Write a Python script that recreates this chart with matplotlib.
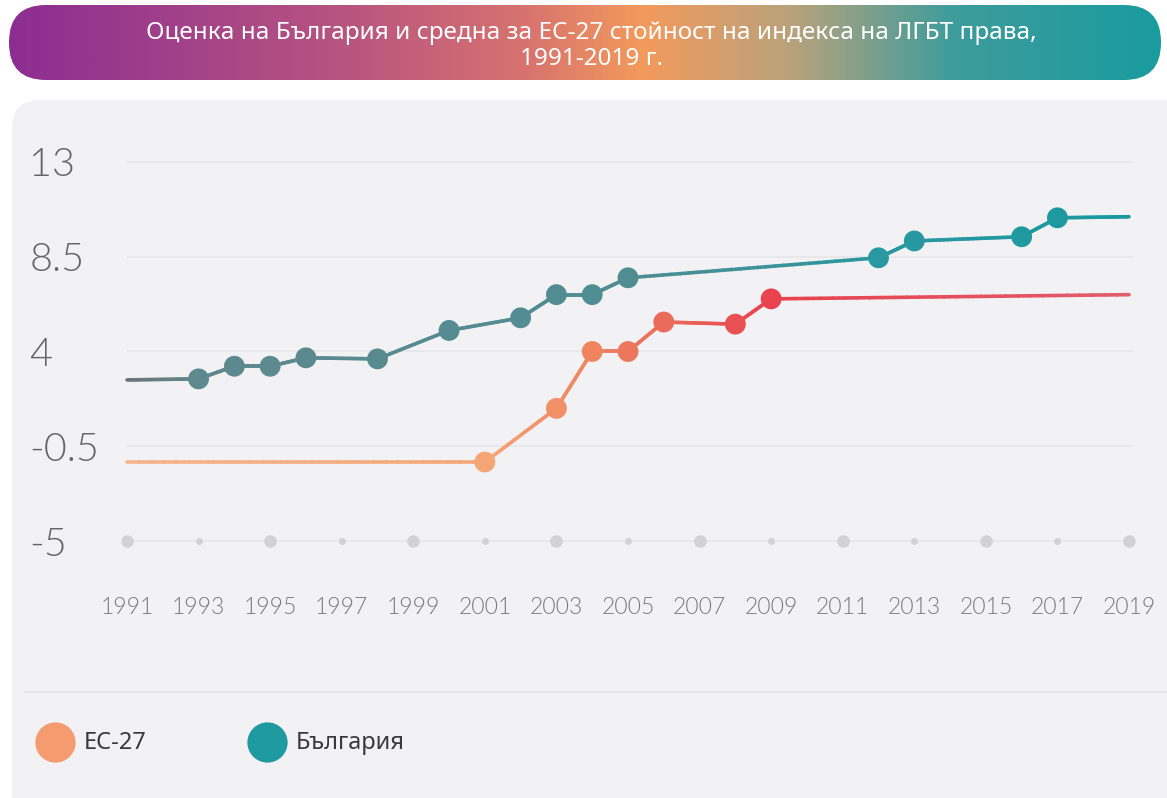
import numpy as np
import matplotlib.pyplot as plt
from matplotlib.collections import LineCollection
from matplotlib.colors import LinearSegmentedColormap, Normalize
from matplotlib.patches import FancyBboxPatch

plt.rcParams['font.family'] = ['Lato', 'DejaVu Sans']

# ## DATA

years_eu = [1991, 2001, 2003, 2004, 2005, 2006, 2008, 2009, 2019]
eu27 = [-1.25, -1.25, 1.3, 4.0, 4.0, 5.4, 5.3, 6.5, 6.7]
eu_marker = [False, True, True, True, True, True, True, True, False]

years_bg = [1991, 1993, 1994, 1995, 1996, 1998, 2000, 2002, 2003, 2004, 2005,
            2012, 2013, 2016, 2017, 2019]
bulgaria = [2.65, 2.7, 3.3, 3.3, 3.7, 3.65, 5.0, 5.6, 6.7, 6.7, 7.5,
            8.45, 9.25, 9.45, 10.35, 10.4]
bg_marker = [False, True, True, True, True, True, True, True, True, True, True,
             True, True, True, True, False]

xticks = list(range(1991, 2020, 2))
yticks = [-5, -0.5, 4, 8.5, 13]
ytick_labels = ['-5', '-0.5', '4', '8.5', '13']

title = ('Оценка на България и средна за ЕС-27 стойност на индекса на ЛГБТ права,\n'
         '1991-2019 г.')
legend_labels = ['ЕС-27', 'България']

# colour ramps along the x axis
norm = Normalize(1991, 2019)
cmap_eu = LinearSegmentedColormap.from_list('eu', [
    (0.0, '#f5b48c'), (10 / 28, '#f5a677'), (13 / 28, '#ef835f'),
    (15 / 28, '#eb6c5a'), (18 / 28, '#e8424f'), (1.0, '#e35c6b')])
cmap_bg = LinearSegmentedColormap.from_list('bg', [
    (0.0, '#6d7478'), (2 / 28, '#5e898e'), (14 / 28, '#4f8d93'),
    (21 / 28, '#2a98a0'), (1.0, '#18999f')])

W, H = 1167, 798
fig = plt.figure(figsize=(W / 100, H / 100), dpi=100)
fig.patch.set_facecolor('white')

# background panel and header banner
bg = fig.add_axes([0, 0, 1, 1])
bg.set_xlim(0, W)
bg.set_ylim(H, 0)
bg.axis('off')
panel = FancyBboxPatch((12, 100), W + 40, H, boxstyle='round,pad=0,rounding_size=28',
                       fc='#f2f2f5', ec='none')
bg.add_patch(panel)
bg.plot([25, W], [692, 692], color='#e4e4e8', lw=1.2)

banner = FancyBboxPatch((9, 5), 1152, 75, boxstyle='round,pad=0,rounding_size=37',
                        fc='none', ec='none')
bg.add_patch(banner)
cmap_title = LinearSegmentedColormap.from_list('title', [
    (0.0, '#8c2d92'), (0.3, '#b9567f'), (0.45, '#d8736f'), (0.55, '#f39a5c'),
    (0.68, '#b9a27c'), (0.82, '#3e9c9c'), (1.0, '#1a9b9f')])
grad = np.linspace(0, 1, 512).reshape(1, -1)
im = bg.imshow(grad, cmap=cmap_title, aspect='auto', extent=(9, 1161, 80, 5))
im.set_clip_path(banner)
bg.text(591, 46, title, color='white', fontsize=17.5, ha='center', va='center',
        family=['Noto Sans', 'DejaVu Sans'], linespacing=1.08)

# legend
lx = [55, 267]
lcol = ['#f59b70', '#1e9aa0']
for x, c, lab in zip(lx, lcol, legend_labels):
    bg.plot(x, 742, 'o', ms=29, color=c, mec='none')
    bg.text(x + 29, 743, lab, color='#3a3a3a', fontsize=17, va='center',
            family=['Noto Sans', 'DejaVu Sans'])

# ## PLOT

ax = fig.add_axes([100 / W, 1 - 580 / H, 1060 / W, 450 / H])
ax.patch.set_alpha(0)
for s in ax.spines.values():
    s.set_visible(False)
px_year = (1129 - 127) / 28
px_unit = (541 - 162) / 18
ax.set_xlim(1991 - 27 / px_year, 2019 + 31 / px_year)
ax.set_ylim(-5 - 39 / px_unit, 13 + 32 / px_unit)

ax.hlines(yticks, 1991, 2019.1, color='#e6e6ea', lw=1.2, zorder=0)
ax.plot(xticks[::2], [-5] * len(xticks[::2]), 'o', ms=9, color='#d2d2d6', mec='none')
ax.plot(xticks[1::2], [-5] * len(xticks[1::2]), 'o', ms=5, color='#d2d2d6', mec='none')


def gradient_line(years, values, mask, cmap):
    segs, cols = [], []
    for i in range(len(years) - 1):
        xs = np.linspace(years[i], years[i + 1], 30)
        ys = np.linspace(values[i], values[i + 1], 30)
        for j in range(29):
            segs.append([(xs[j], ys[j]), (xs[j + 1], ys[j + 1])])
            cols.append(cmap(norm((xs[j] + xs[j + 1]) / 2)))
    lc = LineCollection(segs, colors=cols, linewidths=2.6, capstyle='round', zorder=2)
    ax.add_collection(lc)
    mx = [x for x, m in zip(years, mask) if m]
    my = [y for y, m in zip(values, mask) if m]
    ax.scatter(mx, my, s=15 ** 2, c=[cmap(norm(x)) for x in mx], edgecolors='none',
               zorder=3, clip_on=False)


gradient_line(years_bg, bulgaria, bg_marker, cmap_bg)
gradient_line(years_eu, eu27, eu_marker, cmap_eu)

ax.set_xticks(xticks)
ax.set_xticklabels([str(x) for x in xticks], fontsize=16.5, color='#7a7a7a',
                   fontweight=300)
ax.set_yticks(yticks)
ax.set_yticklabels(ytick_labels, fontsize=28.5, color='#666666', ha='left',
                   fontweight=300)
ax.tick_params(axis='x', length=0, pad=12)
ax.tick_params(axis='y', length=0, pad=51)

fig.savefig('out.png', dpi=100)
